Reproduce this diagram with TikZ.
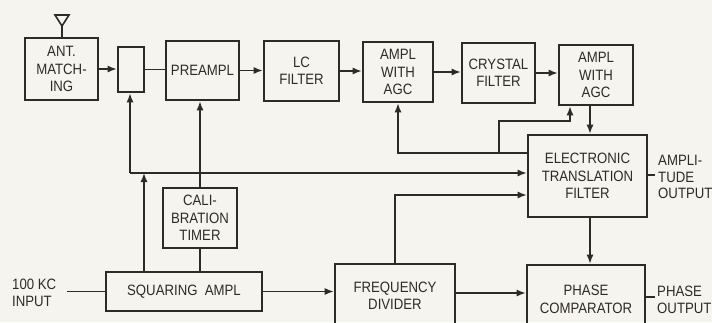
\documentclass[tikz,border=0pt]{standalone}
\usepackage{fontspec}
\setmainfont{Liberation Sans}[FakeStretch=0.88]
\usetikzlibrary{arrows.meta}
\definecolor{bg}{RGB}{246,244,238}
\definecolor{ink}{RGB}{45,42,40}
\begin{document}
\begin{tikzpicture}[x=1pt,y=-1pt,
  blk/.style={draw=ink, text=ink, line width=2.6pt, inner sep=0pt, align=center,
    font=\fontsize{15}{17.5}\selectfont},
  lbl/.style={text=ink, inner sep=0pt, align=left, font=\fontsize{15}{16.8}\selectfont},
  con/.style={draw=ink, line width=1.4pt},
  arr/.style={con, -{Latex[length=9pt,width=7pt]}}]
\useasboundingbox[fill=bg] (0,0) rectangle (712,322);
% blocks
\node[blk, minimum width=73pt, minimum height=62pt] (ant) at (61.5,69) {ANT.\\MATCH-\\ING};
\node[blk, minimum width=26pt, minimum height=45pt] (sw) at (131,69.5) {};
\node[blk, minimum width=73pt, minimum height=59pt] (pre) at (202.5,70.5) {PREAMPL};
\node[blk, minimum width=75pt, minimum height=60pt] (lc) at (301.5,71) {LC\\FILTER};
\node[blk, minimum width=70pt, minimum height=60pt] (a1) at (398,72) {AMPL\\WITH\\AGC};
\node[blk, minimum width=73pt, minimum height=60pt] (cry) at (498.5,73) {CRYSTAL\\FILTER};
\node[blk, minimum width=74pt, minimum height=60pt] (a2) at (596,75) {AMPL\\WITH\\AGC};
\node[blk, minimum width=119pt, minimum height=82pt] (etf) at (587.5,176) {ELECTRONIC\\TRANSLATION\\FILTER};
\node[blk, minimum width=74pt, minimum height=60pt] (cal) at (200,218) {CALI-\\BRATION\\TIMER};
\node[blk, minimum width=156pt, minimum height=39pt] (sq) at (184,291.5) {SQUARING\ \ AMPL};
\node[blk, minimum width=120pt, minimum height=64pt] (fd) at (395,296) {FREQUENCY\\DIVIDER};
\node[blk, minimum width=118pt, minimum height=69pt] (pc) at (586,299.5) {PHASE\\COMPARATOR};
% antenna
\coordinate (anttip) at (62,26);
\draw[con, line width=1.6pt, line join=miter] (55,15) -- (69,15) -- (anttip) -- cycle;
\draw[con, line width=1.6pt] (anttip) -- (anttip |- ant.north);
% labels
\node[lbl, anchor=west] (inp) at (12,293) {100 KC\\INPUT};
\node[lbl, anchor=west] (ampout) at (658,177) {AMPLI-\\TUDE\\OUTPUT};
\node[lbl, anchor=west] (phout) at (657,299.5) {PHASE\\OUTPUT};
% main chain
\draw[arr] (ant.east) -- (ant.east -| sw.west);
\draw[con] (sw.east) -- (sw.east -| pre.west);
\draw[arr] (pre.east) -- (pre.east -| lc.west);
\draw[arr] (lc.east) -- (lc.east -| a1.west);
\draw[arr] (a1.east) -- (a1.east -| cry.west);
\draw[arr] (cry.east) -- (cry.east -| a2.west);
% reference line from squaring ampl
\coordinate (j1) at (130,173);
\coordinate (sqo) at (144,173);
\draw[arr] (sq.north -| sqo) -- (sqo);
\draw[arr] (j1) -- (j1 |- sw.south);
\draw[arr] (j1) -- (j1 -| etf.west);
% calibration timer
\draw[arr] (cal.north) -- (cal.north |- pre.south);
\draw[con] (cal.south) -- (cal.south |- sq.north);
% AGC feedback
\coordinate (fb) at (398,153);
\coordinate (br) at (499,153);
\coordinate (br2) at (570,121);
\draw[arr] (etf.west |- fb) -- (fb) -- (fb |- a1.south);
\draw[arr] (br) |- (br2) -- (br2 |- a2.south);
% downward chain
\coordinate (dn) at (590,0);
\draw[arr] (a2.south -| dn) -- (etf.north -| dn);
\draw[arr] (etf.south -| dn) -- (pc.north -| dn);
% frequency divider
\coordinate (fu) at (395,195);
\draw[arr] (fd.north) |- (etf.west |- fu);
\coordinate (fp) at (0,293);
\draw[arr] (sq.east) -- (sq.east -| fd.west);
\draw[arr] (fd.east |- fp) -- (pc.west |- fp);
% input and outputs
\coordinate (inend) at (67,291.5);
\draw[con] (inend) -- (inend -| sq.west);
\coordinate (ao) at (655,175);
\draw[con] (etf.east |- ao) -- (ao);
\coordinate (po) at (655,297);
\draw[con] (pc.east |- po) -- (po);
\end{tikzpicture}
\end{document}
